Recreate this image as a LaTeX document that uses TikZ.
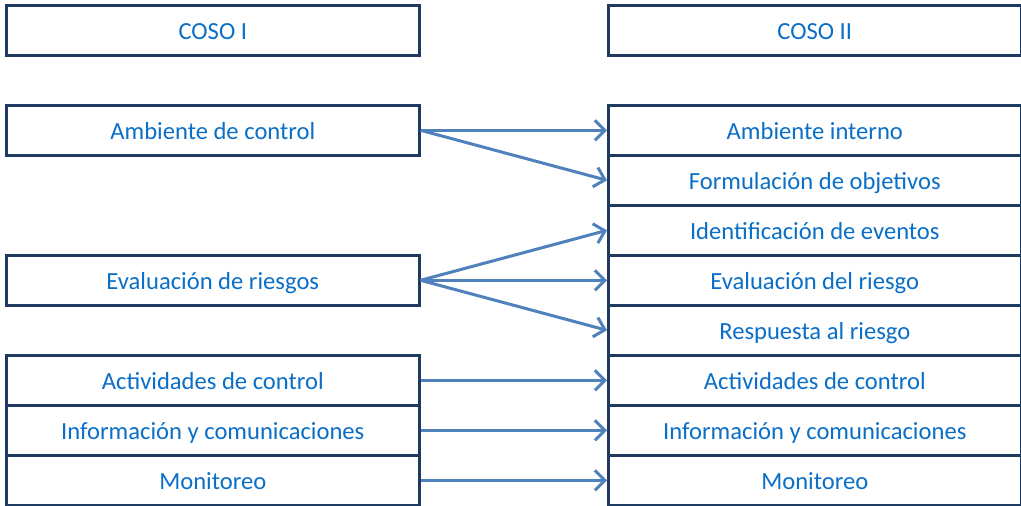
\documentclass[tikz,border=0pt]{standalone}
\usepackage{fontspec}
\setmainfont{Carlito}
\usetikzlibrary{arrows.meta}
\definecolor{boxline}{HTML}{1F3A60}
\definecolor{boxtext}{HTML}{0A6FC8}
\definecolor{arrowcol}{HTML}{4F81BD}
\begin{document}
\begin{tikzpicture}[x=1pt,y=-1pt,
  cell/.style={draw=boxline, line width=2.6pt, fill=white, text=boxtext,
    minimum width=413pt, minimum height=50pt, inner sep=0pt, anchor=north west,
    text height=18pt, text depth=0pt,
    font=\fontsize{24.6}{28}\selectfont},
  link/.style={draw=arrowcol, line width=3pt,
    -{Straight Barb[length=10pt,width=20pt,line width=3pt]}}]
\useasboundingbox (0,0) rectangle (1021,506);
% left column
\node[cell] (c1)  at (5,4)   {COSO I};
\node[cell] (l1)  at (5,104) {Ambiente de control};
\node[cell] (l2)  at (5,254) {Evaluación de riesgos};
\node[cell] (l3)  at (5,354) {Actividades de control};
\node[cell] (l4)  at (5,404) {Información y comunicaciones};
\node[cell] (l5)  at (5,454) {Monitoreo};
% right column
\node[cell] (c2)  at (607,4)   {COSO II};
\node[cell] (r1)  at (607,104) {Ambiente interno};
\node[cell] (r2)  at (607,154) {Formulación de objetivos};
\node[cell] (r3)  at (607,204) {Identificación de eventos};
\node[cell] (r4)  at (607,254) {Evaluación del riesgo};
\node[cell] (r5)  at (607,304) {Respuesta al riesgo};
\node[cell] (r6)  at (607,354) {Actividades de control};
\node[cell] (r7)  at (607,404) {Información y comunicaciones};
\node[cell] (r8)  at (607,454) {Monitoreo};
% connectors
\draw[link] (l1.east) -- (r1.west);
\draw[link] (l1.east) -- (r2.west);
\draw[link] (l2.east) -- (r3.west);
\draw[link] (l2.east) -- (r4.west);
\draw[link] (l2.east) -- (r5.west);
\draw[link] (l3.east) -- (r6.west);
\draw[link] (l4.east) -- (r7.west);
\draw[link] (l5.east) -- (r8.west);
\end{tikzpicture}
\end{document}
